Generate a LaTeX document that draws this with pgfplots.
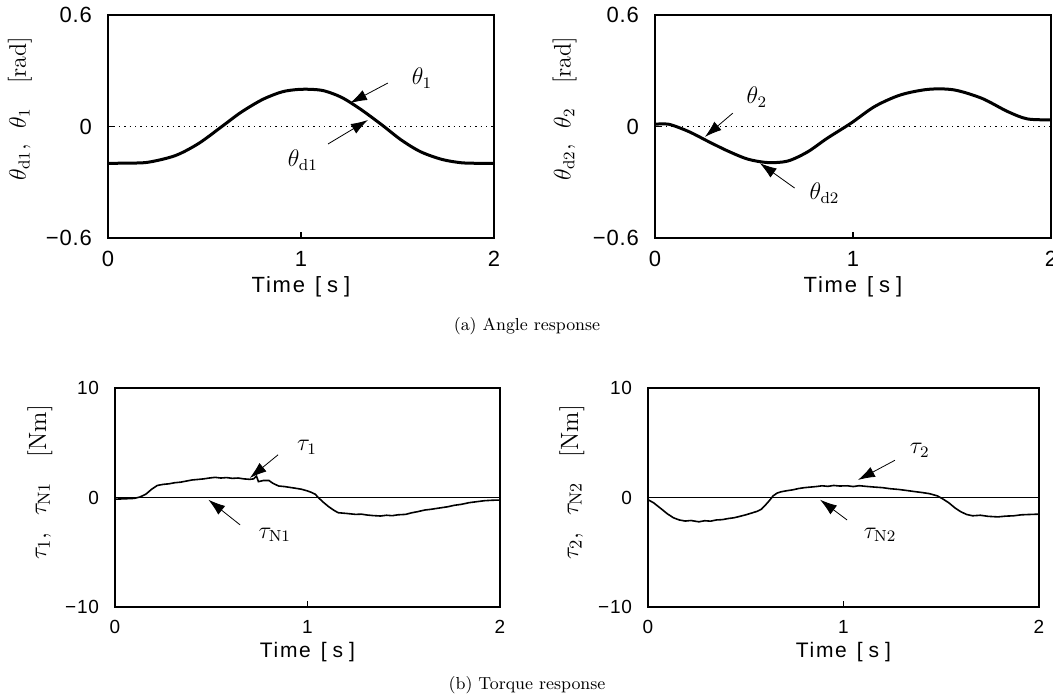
\documentclass[border=0pt]{standalone}
\usepackage{fontspec}
\usepackage{pgfplots}
\pgfplotsset{compat=1.18}
\usetikzlibrary{arrows.meta}
\newfontfamily\tickfont[LetterSpace=4]{Liberation Sans}
\newfontfamily\labfont[LetterSpace=8]{Liberation Sans}
\newcommand\timelabel{Time\hspace{5pt}[\hspace{3pt}s\hspace{3pt}]}

% theta_1 / theta_d1 (they lie on top of each other)
\pgfplotstableread{
t th
0.00 -0.198
0.10 -0.197
0.21 -0.192
0.35 -0.156
0.47 -0.091
0.59 0.000
0.69 0.077
0.80 0.145
0.90 0.186
0.98 0.199
1.05 0.200
1.12 0.192
1.21 0.157
1.31 0.092
1.42 0.008
1.52 -0.073
1.62 -0.136
1.73 -0.177
1.83 -0.195
1.92 -0.198
2.00 -0.198
}\thone
\pgfplotstableread{
t th
0.00 0.012
0.07 0.012
0.17 -0.027
0.27 -0.081
0.37 -0.133
0.47 -0.176
0.57 -0.194
0.67 -0.186
0.77 -0.137
0.87 -0.063
0.99 0.018
1.11 0.108
1.24 0.170
1.38 0.200
1.51 0.197
1.65 0.152
1.78 0.081
1.88 0.041
2.00 0.036
}\thtwo
\pgfplotstableread{
t tau
0.00 -0.15
0.05 -0.12
0.10 -0.08
0.13 0.05
0.16 0.30
0.19 0.75
0.22 1.10
0.25 1.20
0.28 1.25
0.31 1.35
0.34 1.40
0.37 1.50
0.40 1.60
0.43 1.65
0.46 1.70
0.49 1.78
0.52 1.84
0.55 1.78
0.58 1.82
0.61 1.75
0.64 1.78
0.67 1.70
0.70 1.66
0.72 1.70
0.735 1.95
0.745 1.45
0.77 1.55
0.80 1.55
0.82 1.30
0.85 1.05
0.88 1.00
0.91 0.92
0.94 0.84
0.97 0.75
1.00 0.60
1.02 0.47
1.04 0.30
1.056 0.00
1.08 -0.40
1.11 -0.84
1.14 -1.20
1.16 -1.39
1.20 -1.45
1.25 -1.54
1.28 -1.52
1.31 -1.60
1.34 -1.65
1.38 -1.69
1.41 -1.62
1.44 -1.66
1.47 -1.58
1.51 -1.54
1.54 -1.40
1.57 -1.30
1.61 -1.14
1.64 -1.08
1.67 -1.00
1.70 -0.92
1.73 -0.84
1.76 -0.72
1.80 -0.62
1.84 -0.47
1.88 -0.38
1.92 -0.29
1.96 -0.25
2.00 -0.23
}\tauone
\pgfplotstableread{
t tau
0.00 -0.20
0.03 -0.50
0.07 -1.07
0.10 -1.50
0.13 -1.85
0.16 -2.05
0.19 -2.15
0.22 -2.10
0.26 -2.22
0.29 -2.12
0.32 -2.16
0.35 -2.05
0.38 -2.02
0.41 -1.92
0.44 -1.85
0.47 -1.72
0.50 -1.58
0.53 -1.42
0.56 -1.25
0.58 -1.07
0.60 -0.70
0.62 -0.30
0.64 0.15
0.66 0.40
0.68 0.52
0.71 0.62
0.74 0.70
0.77 0.82
0.80 0.90
0.83 0.95
0.86 1.00
0.89 1.07
0.92 1.02
0.95 1.10
0.98 1.05
1.02 1.07
1.05 1.00
1.08 1.08
1.12 1.01
1.16 0.95
1.20 0.90
1.24 0.80
1.28 0.74
1.32 0.65
1.36 0.55
1.40 0.46
1.44 0.35
1.48 0.15
1.51 -0.15
1.54 -0.50
1.57 -0.95
1.60 -1.30
1.63 -1.55
1.66 -1.67
1.70 -1.62
1.74 -1.72
1.79 -1.77
1.83 -1.70
1.87 -1.67
1.91 -1.58
1.95 -1.55
2.00 -1.52
}\tautwo

\tikzset{ann/.style={-{Latex[length=8.5pt,width=5.5pt]}, line width=0.4pt}}

\pgfplotsset{
  resp/.style={
    scale only axis,
    xmin=0, xmax=2,
    xtick={0,1,2}, xticklabels={0,1,2},
    tick align=inside, tick pos=left,
    major tick length=3pt,
    axis line style={line width=1pt},
    every tick/.style={black, line width=0.8pt},
    xlabel={\timelabel},
    xticklabel style={yshift=-3pt},
    yticklabel style={xshift=-4.5pt},
  },
  angle/.style={
    resp, width=193pt, height=111.5pt,
    ymin=-0.6, ymax=0.6,
    ytick={-0.6,0,0.6}, yticklabels={−0.6,0,0.6},
    ticklabel style={font=\tickfont\fontsize{11}{12}\selectfont},
    xlabel style={font=\labfont\fontsize{11}{12}\selectfont, yshift=2pt},
    ylabel style={font=\fontsize{12}{14}\selectfont, at={(axis description cs:-0.228,0.58)}, anchor=center},
  },
  torque/.style={
    resp, width=193pt, height=109.5pt,
    ymin=-10, ymax=10,
    ytick={-10,0,10}, yticklabels={−10,0,10},
    ticklabel style={font=\tickfont\fontsize{9.5}{11}\selectfont},
    xlabel style={font=\labfont\fontsize{10.5}{11}\selectfont, yshift=2.5pt},
    ylabel style={font=\fontsize{12.5}{14}\selectfont, at={(axis description cs:-0.195,0.57)}, anchor=center},
  },
}

\begin{document}
\begin{tikzpicture}
\useasboundingbox (0,0) rectangle (526.5pt,349pt);

% (a) angle, joint 1
\begin{axis}[angle, at={(54pt,230pt)}, anchor=south west,
  ylabel={$\theta_{\mathrm{d1}}$,\ \ $\theta_1$\quad[rad]}]
\addplot[black, dotted, line width=0.7pt] coordinates {(0,0) (2,0)};
\addplot[black, line width=1.5pt, smooth] table[x=t, y=th] {\thone};
\draw[ann] (axis cs:1.45,0.234) -- (axis cs:1.254,0.126);
\draw[ann] (axis cs:1.14,-0.094) -- (axis cs:1.347,0.035);
\node[font=\fontsize{12}{14}\selectfont] at (axis cs:1.627,0.261) {$\theta_1$};
\node[font=\fontsize{12}{14}\selectfont] at (axis cs:1.01,-0.18) {$\theta_{\mathrm{d1}}$};
\end{axis}

% (a) angle, joint 2
\begin{axis}[angle, width=198pt, at={(327.5pt,230pt)}, anchor=south west,
  ylabel={$\theta_{\mathrm{d2}}$,\ \ $\theta_2$\quad[rad]}]
\addplot[black, dotted, line width=0.7pt] coordinates {(0,0) (2,0)};
\addplot[black, line width=1.5pt, smooth] table[x=t, y=th] {\thtwo};
\draw[ann] (axis cs:0.393,0.072) -- (axis cs:0.252,-0.056);
\draw[ann] (axis cs:0.705,-0.331) -- (axis cs:0.529,-0.197);
\node[font=\fontsize{12}{14}\selectfont] at (axis cs:0.514,0.158) {$\theta_2$};
\node[font=\fontsize{12}{14}\selectfont] at (axis cs:0.856,-0.358) {$\theta_{\mathrm{d2}}$};
\end{axis}

\node[font=\fontsize{8.7}{10}\selectfont] at (263.5pt,186pt) {(a) Angle response};

% (b) torque, joint 1
\begin{axis}[torque, width=192.5pt, at={(57.5pt,45.5pt)}, anchor=south west,
  ylabel={$\tau_1$,\ \ $\tau_{\mathrm{N1}}$\quad[Nm]}]
\addplot[black, line width=0.8pt] coordinates {(0,0) (2,0)};
\addplot[black, line width=0.8pt] table[x=t, y=tau] {\tauone};
\draw[ann] (axis cs:0.847,3.9) -- (axis cs:0.70,1.78);
\draw[ann] (axis cs:0.65,-2.5) -- (axis cs:0.485,-0.2);
\node[font=\fontsize{12}{14}\selectfont] at (axis cs:0.997,4.6) {$\tau_1$};
\node[font=\fontsize{12}{14}\selectfont] at (axis cs:0.83,-3.4) {$\tau_{\mathrm{N1}}$};
\end{axis}

% (b) torque, joint 2
\begin{axis}[torque, width=195.5pt, at={(324pt,45.5pt)}, anchor=south west,
  ylabel={$\tau_2$,\ \ $\tau_{\mathrm{N2}}$\quad[Nm]}]
\addplot[black, line width=0.8pt] coordinates {(0,0) (2,0)};
\addplot[black, line width=0.8pt] table[x=t, y=tau] {\tautwo};
\draw[ann] (axis cs:1.263,3.4) -- (axis cs:1.074,1.6);
\draw[ann] (axis cs:1.018,-2.05) -- (axis cs:0.88,-0.2);
\node[font=\fontsize{12}{14}\selectfont] at (axis cs:1.39,4.3) {$\tau_2$};
\node[font=\fontsize{12}{14}\selectfont] at (axis cs:1.187,-3.4) {$\tau_{\mathrm{N2}}$};
\end{axis}

\node[font=\fontsize{8.7}{10}\selectfont] at (263.5pt,6.5pt) {(b) Torque response};
\end{tikzpicture}
\end{document}
